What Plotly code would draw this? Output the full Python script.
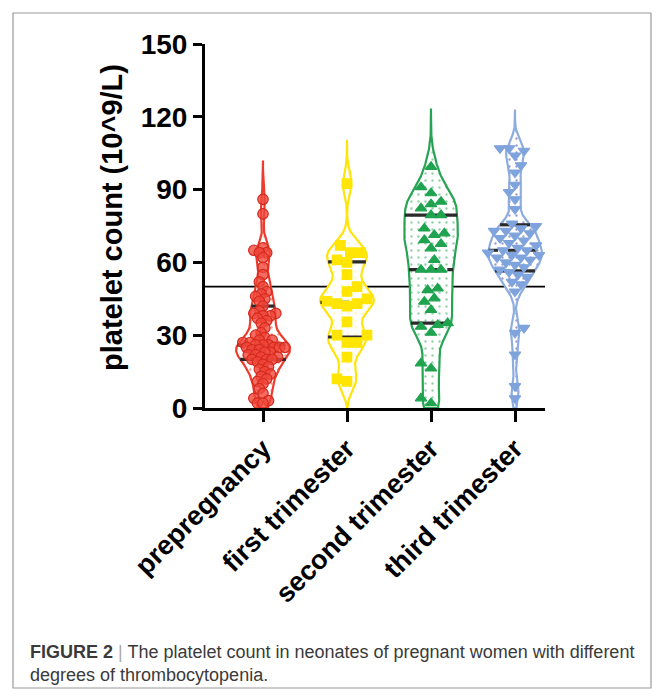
import numpy as np
import plotly.graph_objects as go

# ---------------- data ----------------
categories = ["prepregnancy", "first trimester", "second trimester", "third trimester"]

prepregnancy = [86, 80, 66, 65, 64, 64, 62, 58, 55, 52, 50, 48, 47, 46, 45, 44, 42,
                40, 39, 39, 38, 38, 37, 36, 35, 33, 31, 30, 29, 28, 28, 27, 27,
                26, 26, 26, 25, 25, 25, 25, 24, 24, 23, 23, 22, 22, 21, 21, 20, 20, 20, 19,
                18, 17, 16, 15, 14, 13, 12, 11, 10, 8, 6, 4, 3, 2, 2]
first_trimester = [92.5, 67, 64, 64, 61, 60, 55, 50, 48, 45, 44, 43, 43, 42, 35.5,
                   30, 30, 27, 27, 21, 12, 11]
second_trimester = [99.4, 91, 88.5, 85, 84, 82.3, 79.5, 79.5, 74, 72, 71.3, 69.2, 67.6, 65.8,
                    61, 57, 57, 57, 49.3, 48.6, 45.2, 43.8, 40.4, 35, 34.2, 33.5, 31,
                    18.4, 16.3, 4, 2]
third_trimester = [107, 107, 106, 104, 100, 97, 92, 89, 86, 82, 76, 75, 74, 73, 73, 72, 71,
                   70, 69, 68, 67, 66, 65, 65, 64, 63, 63, 62, 62, 61, 60, 59, 58, 57, 56,
                   55, 54, 52, 51, 48, 33, 31, 22, 9, 4]
reference_value = 50

groups = [prepregnancy, first_trimester, second_trimester, third_trimester]

# ---------------- styles ----------------
line_colors = ["#ee3b2c", "#ffe40a", "#27a453", "#8cadde"]
dot_colors = ["#ee3b2c", "#fff07a", "#27a453", "#3a3aa0"]
marker_fill = ["rgba(240,70,58,0.80)", "#ffe500", "#1fa34f", "#7fa3dc"]
marker_line = ["#d42a1e", "#ffe500", "#1fa34f", "#7fa3dc"]
symbols = ["circle", "square", "triangle-up", "triangle-down"]
msizes = [10.5, 9.5, 10, 10]
swarm_d = [5.5, 10.0, 10.0, 9.0]
bandwidths = [4.0, 4.5, 6.0, 4.0]

FONT = "Liberation Sans, Arial, Helvetica, sans-serif"
OFF = 8  # page body margin
W, H = 665 - OFF, 699 - OFF
PX_L, PX_R, PX_T, PX_B = 205 - OFF, 545 - OFF, 44 - OFF, 408 - OFF
PX_CAT0, PX_STEP = 263 - OFF, 84
HALF_W = 0.32  # max half-width of violins in category units

x_lo = -(PX_CAT0 - PX_L) / PX_STEP
x_hi = x_lo + (PX_R - PX_L) / PX_STEP
ppy = (PX_B - PX_T) / 150.0


def kde(vals, bw, grid):
    v = np.asarray(vals, float)
    z = (grid[:, None] - v[None, :]) / bw
    return np.exp(-0.5 * z ** 2).sum(axis=1)


def beeswarm(vals, d):
    vals = np.asarray(vals, float)
    order = np.argsort(vals)
    placed = []
    xs = np.zeros(len(vals))
    flip = 1
    for i in order:
        y = vals[i] * ppy
        best = None
        for k in range(0, 80):
            signs = [0] if k == 0 else [flip, -flip]
            for s in signs:
                x = s * k * d / 3.0
                if all((x - px) ** 2 + (y - py) ** 2 >= d ** 2 for px, py in placed):
                    best = x
                    break
            if best is not None:
                break
        flip = -flip
        placed.append((best, y))
        xs[i] = best / PX_STEP
    return xs


fig = go.Figure()

for gi, vals in enumerate(groups):
    bw = bandwidths[gi]
    lo = max(0.0, min(vals) - 4 * bw)
    hi = max(vals) + 4 * bw
    grid = np.linspace(lo, hi, 400)
    dens = kde(vals, bw, grid)
    w = dens / dens.max() * HALF_W
    xs = np.concatenate([gi + w, (gi - w)[::-1], [gi + w[0]]])
    ys = np.concatenate([grid, grid[::-1], [grid[0]]])
    fig.add_trace(go.Scatter(
        x=xs, y=ys, mode="lines", fill="toself", fillcolor="white",
        fillpattern=dict(shape=".", fgcolor=dot_colors[gi], bgcolor="white",
                         size=7, solidity=0.09),
        line=dict(color=line_colors[gi], width=2.2), hoverinfo="skip", showlegend=False))

    # quartile lines
    q1, med, q3 = np.percentile(vals, [25, 50, 75], method="weibull")
    for q, dash in [(q1, "solid"), (med, "dash"), (q3, "solid")]:
        hw = np.interp(q, grid, w)
        fig.add_trace(go.Scatter(
            x=[gi - hw, gi + hw], y=[q, q], mode="lines",
            line=dict(color="#2a2a2a", width=3.2, dash=dash),
            hoverinfo="skip", showlegend=False))

    # points
    px = gi + beeswarm(vals, swarm_d[gi])
    fig.add_trace(go.Scatter(
        x=px, y=vals, mode="markers",
        marker=dict(symbol=symbols[gi], size=msizes[gi], color=marker_fill[gi],
                    line=dict(color=marker_line[gi], width=1.2)),
        showlegend=False, name=categories[gi]))

# reference line at 50
fig.add_shape(type="line", xref="paper", x0=0, x1=1, yref="y",
              y0=reference_value, y1=reference_value,
              line=dict(color="black", width=1.6), layer="below")


def px2x(p):
    return (p - OFF - PX_L) / (PX_R - PX_L)


def px2y(p):
    return (PX_B - (p - OFF)) / (PX_B - PX_T)


# outer frame
fig.add_shape(type="rect", xref="paper", yref="paper",
              x0=px2x(13), x1=px2x(651), y0=px2y(688), y1=px2y(13),
              line=dict(color="#9a9a9a", width=1.2), fillcolor="rgba(0,0,0,0)", layer="below")

# y axis title
fig.add_annotation(xref="paper", yref="paper", x=px2x(112), y=px2y(217),
                   text="platelet count (10^9/L)", textangle=-90, showarrow=False,
                   font=dict(family=FONT, size=29, color="black", weight="bold"),
                   xanchor="center", yanchor="middle")

# caption
fig.add_annotation(xref="paper", yref="paper", x=px2x(28), y=px2y(640),
                   xanchor="left", yanchor="top", align="left", showarrow=False,
                   text=("<b>FIGURE 2</b> <span style='color:#aaaaaa'>|</span> The platelet count in neonates "
                         "of pregnant women with different<br>degrees of thrombocytopenia."),
                   font=dict(family=FONT, size=18, color="#3a3a3a"))

fig.update_layout(
    width=W, height=H,
    margin=dict(l=PX_L, r=W - PX_R, t=PX_T, b=H - PX_B, autoexpand=False),
    paper_bgcolor="white", plot_bgcolor="white",
    showlegend=False,
    xaxis=dict(range=[x_lo, x_hi], tickmode="array", tickvals=list(range(len(categories))),
               ticktext=categories, tickangle=-45, showgrid=False, zeroline=False,
               showline=True, linecolor="black", linewidth=3,
               ticks="outside", ticklen=11, tickwidth=3, tickcolor="black",
               tickfont=dict(family=FONT, size=27, color="black", weight="bold"),
               automargin=False),
    yaxis=dict(range=[0, 150], tickmode="array", tickvals=[0, 30, 60, 90, 120, 150],
               showgrid=False, zeroline=False, showline=True, linecolor="black", linewidth=3,
               ticks="outside", ticklen=9, tickwidth=3, tickcolor="black",
               tickfont=dict(family=FONT, size=28, color="black", weight="bold"),
               automargin=False),
)

fig.write_html("out.html")
